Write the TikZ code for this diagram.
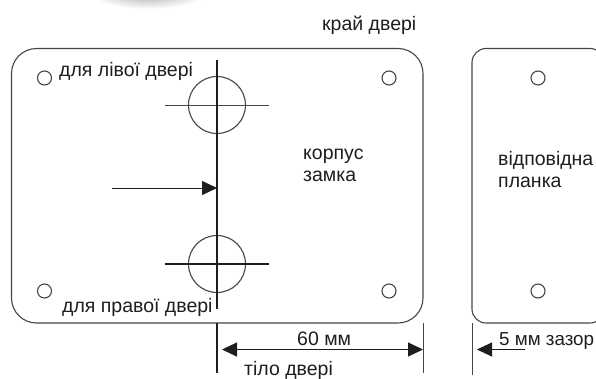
\documentclass[tikz,border=0pt]{standalone}
\usepackage{fontspec}
\setmainfont{Liberation Sans}
\usetikzlibrary{arrows.meta}
\definecolor{ink}{RGB}{30,30,30}
\definecolor{plate}{RGB}{70,70,70}
\tikzset{
  px/.style={x=1pt,y=-1pt},
  plate/.style={draw=plate,line width=1.1pt},
  hole/.style={circle,draw=plate,line width=1.1pt,minimum size=14pt,inner sep=0pt},
  bore/.style={circle,draw=plate,line width=1.1pt,minimum size=57pt,inner sep=0pt},
  thin axis/.style={draw=plate,line width=0.9pt},
  thick axis/.style={draw=ink,line width=1.6pt},
  edge line/.style={draw=plate,line width=1pt},
  dim/.style={draw=ink,line width=1pt,-{Triangle[length=15pt,width=14pt]}},
  lab/.style={font=\fontsize{19.5pt}{23pt}\selectfont,text=ink,inner sep=0pt,align=left},
}
\begin{document}
\begin{tikzpicture}[px]
\useasboundingbox (0,0) rectangle (596,378);
\clip (0,0) rectangle (596,378);
\fill[white] (0,0) rectangle (596,378);
% smudge at top
\shade[inner color=black!30,outer color=white] (148,-5) ellipse [x radius=56,y radius=14];
% plates
\draw[plate] (11.5,48.5) [rounded corners=25pt] -- (423,48.5) -- (423,323) -- (11.5,323) -- cycle;
\draw[plate] (604,200) [rounded corners=14pt] -- (604,48.5) -- (472,48.5) -- (472,323) -- (604,323) -- (604,200);
% holes
\node[hole] (h1) at (44.5,78) {};
\node[hole] (h2) at (389,78) {};
\node[hole] (h3) at (44.5,291) {};
\node[hole] (h4) at (389,291) {};
\node[hole] (h5) at (538,78) {};
\node[hole] (h6) at (538,291) {};
% bores
\node[bore] (b1) at (217,105) {};
\node[bore] (b2) at (217,264) {};
\coordinate (b1l) at (165,105); \coordinate (b1r) at (269,105);
\coordinate (b2l) at (165,264); \coordinate (b2r) at (269,264);
\draw[thin axis] (b1l) -- (b1r);
\draw[thick axis,line width=1.3pt] (b2l) -- (b2r);
% axis
\coordinate (at) at (217,60); \coordinate (ab) at (217,308.5);
\coordinate (ct) at (217,323); \coordinate (cb) at (217,373);
\draw[thick axis] (at) -- (ab);
\draw[thick axis] (ct) -- (cb);
% edges
\coordinate (et) at (423,323); \coordinate (eb) at (423,373);
\coordinate (ft) at (472,323); \coordinate (fb) at (472,375);
\draw[edge line] (et) -- (eb);
\draw[edge line] (ft) -- (fb);
% arrows
\coordinate (a1s) at (112,188); \coordinate (a1e) at (217,188);
\draw[dim] (a1s) -- (a1e);
\coordinate (d1) at (222,349.5); \coordinate (d2) at (423,349.5);
\draw[dim,{Triangle[length=15pt,width=14pt]}-{Triangle[length=15pt,width=14pt]}] (d1) -- (d2);
\coordinate (g1) at (525,349.5); \coordinate (g2) at (477,349.5);
\draw[dim] (g1) -- (g2);
% labels
\node[lab,anchor=base west] (t1) at (59,76) {для лівої двері};
\node[lab,anchor=base west] (t2) at (62,312) {для правої двері};
\node[lab,anchor=base west] (t3) at (322,30) {край двері};
\node[lab,anchor=base west] (t4) at (303,159) {корпус};
\node[lab,anchor=base west] (t5) at (303,181) {замка};
\node[lab,anchor=base west] (t6) at (498,165) {відповідна};
\node[lab,anchor=base west] (t7) at (498,187) {планка};
\node[lab,anchor=base west] (t8) at (297,345) {60 мм};
\node[lab,anchor=base west] (t9) at (244,375) {тіло двері};
\node[lab,anchor=base west,font=\fontsize{18.8pt}{23pt}\selectfont] (t10) at (499,345) {5 мм зазор};
\end{tikzpicture}
\end{document}
